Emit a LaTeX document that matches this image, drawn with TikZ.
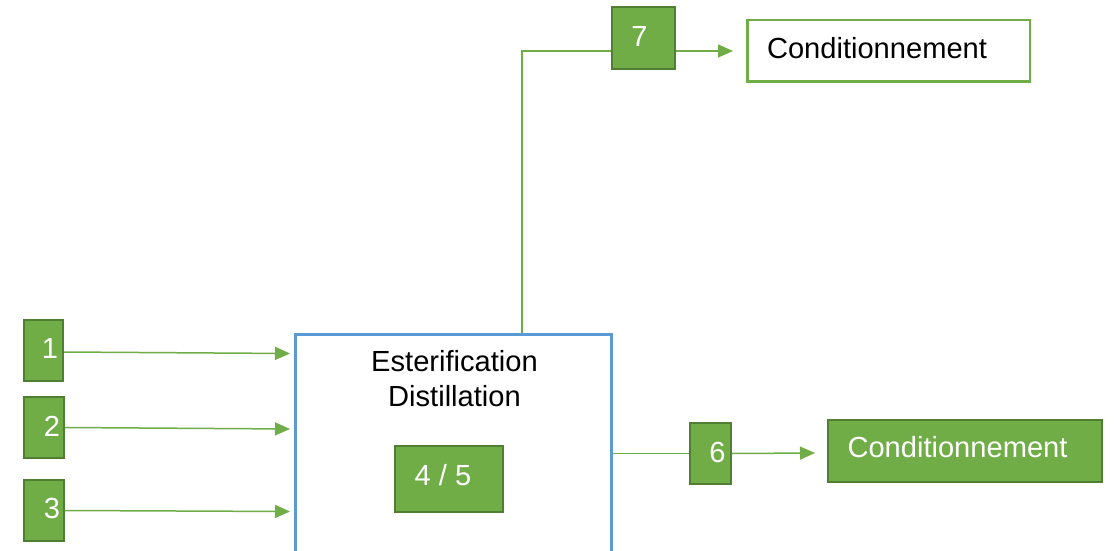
\documentclass[tikz,border=0pt]{standalone}
\usepackage{fontspec}
\setmainfont{Liberation Sans}
\usetikzlibrary{arrows.meta}
\definecolor{leaf}{HTML}{70AD47}
\definecolor{leafdark}{HTML}{507E32}
\definecolor{sky}{HTML}{5B9BD5}

\begin{document}
\begin{tikzpicture}[x=1pt,y=-1pt,
  txt/.style={font=\fontsize{29.1}{35}\selectfont},
  tag/.style={draw=leafdark, fill=leaf, line width=2pt, inner sep=0pt},
  lbl/.style={txt, text=white, inner sep=0pt},
  flow/.style={draw=leaf, line width=1.5pt},
  arr/.style={flow, -{Triangle[length=15pt,width=13pt]}}
]
% page
\useasboundingbox[fill=white] (0,0) rectangle (1114,551);

% process block
\node[draw=sky, line width=3pt, minimum width=316pt, minimum height=264pt,
      inner sep=0pt] (main) at (453.5,466.5) {};
\node[txt, align=center, inner sep=0pt] (mainlbl) at (454.5,378.5)
  {Esterification\\Distillation};
\node[tag, minimum width=108pt, minimum height=66pt,
      label={[lbl, xshift=-6pt, yshift=4pt]center:4 / 5}] (n45) at (449,479) {};

% input streams
\node[tag, minimum width=39pt, minimum height=61pt,
      label={[lbl, xshift=6.5pt, yshift=2.5pt]center:1}] (n1) at (43.5,350.5) {};
\node[tag, minimum width=40pt, minimum height=61pt,
      label={[lbl, xshift=8pt, yshift=1.5pt]center:2}] (n2) at (44,427.5) {};
\node[tag, minimum width=40pt, minimum height=61pt,
      label={[lbl, xshift=8pt, yshift=2.5pt]center:3}] (n3) at (44,510.5) {};

% output streams
\node[tag, minimum width=63pt, minimum height=62pt,
      label={[lbl, xshift=-4pt, yshift=2pt]center:7}] (n7) at (643.5,38) {};
\node[tag, minimum width=41pt, minimum height=61pt,
      label={[lbl, xshift=7pt, yshift=1pt]center:6}] (n6) at (710.5,453.5) {};

% packaging blocks
\node[draw=leaf, fill=white, line width=2.5pt, minimum width=282.5pt,
      minimum height=61.5pt, inner sep=0pt,
      label={[txt, inner sep=0pt, xshift=-11.5pt, yshift=2.7pt]center:Conditionnement}]
      (cond7) at (888.5,51) {};
\node[tag, minimum width=274pt, minimum height=62pt,
      label={[lbl, xshift=-7.5pt, yshift=3.5pt]center:Conditionnement}]
      (cond6) at (965,451) {};

% arrow ends
\coordinate (in1) at (290,353.5);
\coordinate (in2) at (290,429);
\coordinate (in3) at (290,511.5);
\coordinate (tip7) at (733,51);
\coordinate (tip6) at (815,453);

% connectors
\draw[arr] ([yshift=-1.5pt]n1.east) -- (in1);
\draw[arr] (n2.east) -- (in2);
\draw[arr] (n3.east) -- (in3);

\draw[flow] ([xshift=68.5pt]main.north) |- ([yshift=-13pt]n7.west);
\draw[arr] ([yshift=-13pt]n7.east) -- (tip7);

\draw[flow] (main.east |- n6.west) -- (n6.west);
\draw[arr] (n6.east) -- (tip6);
\end{tikzpicture}
\end{document}
